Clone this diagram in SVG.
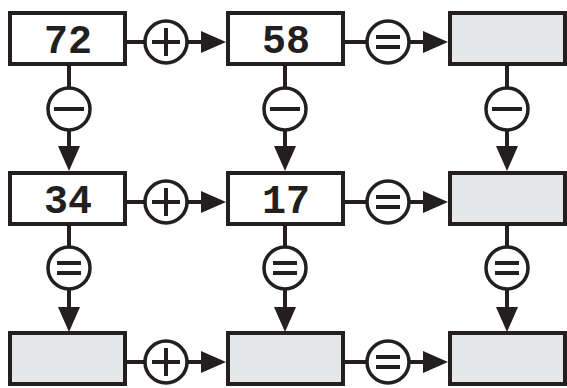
<svg xmlns="http://www.w3.org/2000/svg" width="567" height="388" viewBox="0 0 567 388">
<style>
.box{fill:#fff;stroke:#231f20;stroke-width:4}
.empty{fill:#e6e7e8;stroke:#231f20;stroke-width:4}
.num{font-family:"Liberation Mono","Courier New",monospace;font-weight:bold;font-size:40px;fill:#231f20;text-anchor:middle}
.ln{stroke:#231f20;stroke-width:4;fill:none}
.op{fill:#fff;stroke:#231f20;stroke-width:3.5}
.sym{stroke:#231f20;stroke-width:4;fill:none}
.ah{fill:#231f20}
</style>
<rect width="567" height="388" fill="#fff"/>
<g id="connectors">
  <!-- row 1 horizontal -->
  <path class="ln" d="M126 42H203M344 42H425"/>
  <polygon class="ah" points="226,42 201,31 201,53"/>
  <polygon class="ah" points="448,42 423,31 423,53"/>
  <circle class="op" cx="166" cy="42" r="21"/><path class="sym" d="M152 42H180M166 28V56"/>
  <circle class="op" cx="388" cy="42" r="21"/><path class="sym" d="M376 37H400M376 47H400"/>
  <!-- row 2 horizontal -->
  <path class="ln" d="M126 202H203M344 202H425"/>
  <polygon class="ah" points="226,202 201,191 201,213"/>
  <polygon class="ah" points="448,202 423,191 423,213"/>
  <circle class="op" cx="166" cy="202" r="21"/><path class="sym" d="M152 202H180M166 188V216"/>
  <circle class="op" cx="388" cy="202" r="21"/><path class="sym" d="M376 197H400M376 207H400"/>
  <!-- row 3 horizontal -->
  <path class="ln" d="M126 362H203M344 362H425"/>
  <polygon class="ah" points="226,362 201,351 201,373"/>
  <polygon class="ah" points="448,362 423,351 423,373"/>
  <circle class="op" cx="166" cy="362" r="21"/><path class="sym" d="M152 362H180M166 348V376"/>
  <circle class="op" cx="388" cy="362" r="21"/><path class="sym" d="M376 357H400M376 367H400"/>
  <!-- vertical row1->row2 -->
  <path class="ln" d="M69 65V148M285 65V148M507 65V148"/>
  <polygon class="ah" points="69,171 58,146 80,146"/>
  <polygon class="ah" points="285,171 274,146 296,146"/>
  <polygon class="ah" points="507,171 496,146 518,146"/>
  <circle class="op" cx="69" cy="109" r="21"/><path class="sym" d="M54 109H84"/>
  <circle class="op" cx="285" cy="109" r="21"/><path class="sym" d="M270 109H300"/>
  <circle class="op" cx="507" cy="109" r="21"/><path class="sym" d="M492 109H522"/>
  <!-- vertical row2->row3 -->
  <path class="ln" d="M69 225V309M285 225V309M507 225V309"/>
  <polygon class="ah" points="69,332 58,307 80,307"/>
  <polygon class="ah" points="285,332 274,307 296,307"/>
  <polygon class="ah" points="507,332 496,307 518,307"/>
  <circle class="op" cx="69" cy="268" r="21"/><path class="sym" d="M57 263H81M57 273H81"/>
  <circle class="op" cx="285" cy="268" r="21"/><path class="sym" d="M273 263H297M273 273H297"/>
  <circle class="op" cx="507" cy="268" r="21"/><path class="sym" d="M495 263H519M495 273H519"/>
</g>
<g id="n72"><rect class="box" x="10" y="13" width="115" height="51"/><text class="num" x="68" y="53">72</text></g>
<g id="n58"><rect class="box" x="228" y="13" width="115" height="51"/><text class="num" x="286" y="53">58</text></g>
<g id="r1c3"><rect class="empty" x="450" y="13" width="115" height="51"/></g>
<g id="n34"><rect class="box" x="10" y="173" width="115" height="51"/><text class="num" x="68" y="213">34</text></g>
<g id="n17"><rect class="box" x="228" y="173" width="115" height="51"/><text class="num" x="286" y="213">17</text></g>
<g id="r2c3"><rect class="empty" x="450" y="173" width="115" height="51"/></g>
<g id="r3c1"><rect class="empty" x="10" y="333" width="115" height="51"/></g>
<g id="r3c2"><rect class="empty" x="228" y="333" width="115" height="51"/></g>
<g id="r3c3"><rect class="empty" x="450" y="333" width="115" height="51"/></g>
</svg>
